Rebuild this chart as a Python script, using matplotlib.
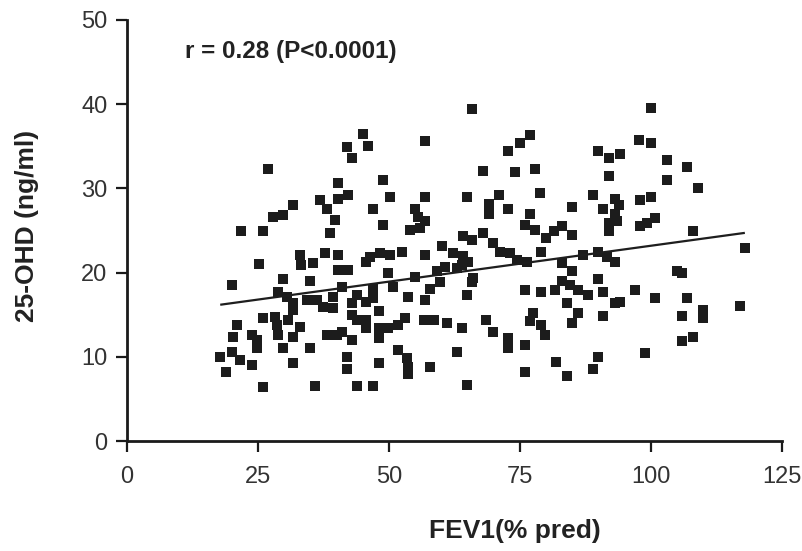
import matplotlib
matplotlib.use("Agg")
import matplotlib.pyplot as plt

plt.rcParams['font.family'] = ['Liberation Sans', 'DejaVu Sans']

# FEV1 (% pred) and 25-OHD (ng/ml)
fev1 = [
    27.0, 40.3, 40.3, 36.8, 38.1, 31.7, 29.8, 27.9, 39.7, 38.7, 21.7, 25.9, 33.0, 33.3, 35.5, 37.8, 40.3, 40.3, 25.1, 29.8, 34.9,
    45.1, 45.9, 41.9, 42.9, 56.9, 65.8, 76.9, 75.0, 72.8, 67.9, 74.1, 77.9, 48.8, 42.2, 50.1, 56.9, 64.9, 70.9, 78.8, 46.9,
    55.0, 69.0, 69.0, 72.8, 48.8, 55.6, 56.9, 55.9, 54.0, 76.9, 76.0, 77.9, 80.0, 64.2, 65.8, 67.9, 69.9, 60.1, 62.3, 64.2,
    65.1, 71.2, 73.1, 74.4, 76.3, 79.0, 46.4, 48.3, 50.2, 52.4, 45.7, 49.9, 56.9, 55.0, 59.1, 60.7, 62.9, 63.9, 66.1, 42.2,
    65.8, 41.0, 47.0, 50.8, 59.7, 57.8, 76.0, 79.0, 43.8, 47.0, 53.7, 56.9, 64.9, 42.9, 45.7, 48.0, 42.9, 43.8, 45.7, 45.7,
    48.0, 48.0, 49.9, 51.8, 53.1, 56.6, 58.5, 61.0, 63.9, 68.6, 69.9, 72.8, 72.8, 76.0, 77.5, 76.9, 79.1, 79.8, 41.0, 42.9,
    41.9, 41.9, 48.0, 51.8, 53.4, 53.7, 53.7, 57.8, 62.9, 76.0, 43.8, 46.9, 64.9,
    20.0, 28.8, 30.5, 31.7, 34.4, 36.3, 37.4, 39.3, 39.3, 31.7, 26.0, 28.2, 28.6, 30.7, 33.0, 28.8, 31.7, 21.0, 20.2, 23.9,
    24.8, 24.8, 29.8, 34.9, 38.2, 40.1, 17.8, 20.0, 21.6, 23.9, 18.9, 31.7, 26.0, 35.9,
    100.0, 97.8, 100.0, 89.9, 91.9, 94.0, 103.0, 106.8, 91.9, 103.0, 109.0, 88.9, 93.1, 97.9, 100.0, 84.9, 90.9, 93.8, 93.1,
    91.9, 91.9, 93.5, 97.9, 99.2, 100.8, 108.0, 81.4, 83.0, 84.9, 87.1, 89.9, 91.6, 93.1, 83.0, 84.9, 117.9, 105.0, 106.0,
    83.0, 89.9,
    81.7, 84.5, 86.1, 88.0, 90.9, 93.1, 94.1, 97.0, 100.8, 106.8, 105.9, 110.0, 110.0, 117.0, 83.9, 86.1, 84.9, 90.9, 105.9,
    108.0, 98.9, 81.9, 84.0, 89.9, 88.9,
]
ohd = [
    32.3, 30.7, 28.8, 28.6, 27.6, 28.0, 26.8, 26.6, 26.2, 24.7, 25.0, 25.0, 22.1, 20.9, 21.1, 22.3, 22.1, 20.3, 21.0, 19.2, 19.0,
    36.5, 35.0, 34.9, 33.6, 35.6, 39.4, 36.3, 35.4, 34.5, 32.1, 31.9, 32.3, 31.0, 29.2, 29.0, 29.0, 29.0, 29.2, 29.4, 27.6,
    27.6, 28.2, 27.0, 27.6, 25.7, 26.6, 26.1, 25.3, 25.1, 27.0, 25.7, 25.1, 24.1, 24.3, 23.9, 24.7, 23.5, 23.2, 22.3, 22.0,
    21.3, 22.5, 22.3, 21.5, 21.3, 22.5, 21.9, 22.3, 22.1, 22.5, 21.3, 20.0, 22.1, 19.5, 20.2, 20.7, 20.5, 20.9, 19.3, 20.3,
    18.9, 18.3, 18.1, 18.3, 18.9, 18.1, 17.9, 17.7, 17.3, 17.0, 17.1, 16.8, 17.3, 16.4, 16.5, 15.4, 15.0, 14.4, 14.4, 13.4,
    13.4, 12.2, 13.4, 13.8, 14.6, 14.4, 14.4, 14.0, 13.4, 14.4, 13.0, 12.2, 11.0, 11.4, 15.2, 14.2, 13.8, 12.6, 13.0, 12.0,
    10.0, 8.6, 9.3, 10.8, 9.8, 8.8, 8.0, 8.8, 10.6, 8.2, 6.5, 6.5, 6.7,
    18.5, 17.7, 17.1, 16.4, 16.8, 16.8, 15.9, 17.1, 15.8, 15.6, 14.6, 14.7, 13.8, 14.4, 13.5, 12.6, 12.4, 13.8, 12.4, 12.6,
    12.0, 11.1, 11.1, 11.1, 12.6, 12.6, 10.0, 10.6, 9.6, 9.0, 8.2, 9.3, 6.4, 6.5,
    39.5, 35.8, 35.4, 34.5, 33.6, 34.1, 33.4, 32.5, 31.5, 31.0, 30.0, 29.2, 28.8, 28.6, 29.0, 27.8, 27.6, 28.0, 27.0,
    25.9, 24.9, 26.1, 25.5, 25.9, 26.5, 25.0, 24.9, 25.5, 24.5, 22.1, 22.4, 21.9, 21.3, 21.1, 20.2, 22.9, 20.2, 20.0,
    19.0, 19.2,
    17.9, 18.5, 17.9, 17.3, 17.7, 16.4, 16.5, 17.9, 17.0, 17.0, 14.8, 15.6, 14.6, 16.0, 16.4, 15.2, 14.0, 14.8, 11.9,
    12.3, 10.5, 9.4, 7.7, 10.0, 8.6,
]

# regression line end points
fit_x = [18.0, 117.7]
fit_y = [16.2, 24.7]

x_ticks = [0, 25, 50, 75, 100, 125]
y_ticks = [0, 10, 20, 30, 40, 50]
annotation = "r = 0.28 (P<0.0001)"

fig = plt.figure(figsize=(8.02, 5.51), dpi=100)
ax = fig.add_axes([127/802, 110/551, 655/802, 421/551])

ax.plot(fev1, ohd, linestyle='none', marker='s', markersize=7.5,
        color='#1c1c1c', markeredgewidth=0, clip_on=False, zorder=3)
ax.plot(fit_x, fit_y, color='#1e1e1e', linewidth=1.6, zorder=4)

ax.set_xlim(0, 125)
ax.set_ylim(0, 50)
ax.set_xticks(x_ticks)
ax.set_yticks(y_ticks)
ax.tick_params(axis='both', direction='out', length=8, width=1.6,
               labelsize=17, labelcolor='#333333', color='#1a1a1a')
ax.tick_params(axis='x', pad=10)
ax.tick_params(axis='y', pad=6)

for side in ['top', 'right']:
    ax.spines[side].set_visible(False)
for side in ['left', 'bottom']:
    ax.spines[side].set_linewidth(2.0)
    ax.spines[side].set_color('#1a1a1a')

ax.set_xlabel("FEV1(% pred)", fontsize=19, fontweight='bold', color='#222222')
ax.set_ylabel("25-OHD (ng/ml)", fontsize=19, fontweight='bold', color='#222222')
ax.xaxis.set_label_coords(0.592, -0.185)
ax.yaxis.set_label_coords(-0.135, 0.51)

ax.text(11.1, 46.3, annotation, fontsize=17.5, fontweight='bold',
        color='#222222', ha='left', va='center')

fig.savefig("out.png", dpi=100)
